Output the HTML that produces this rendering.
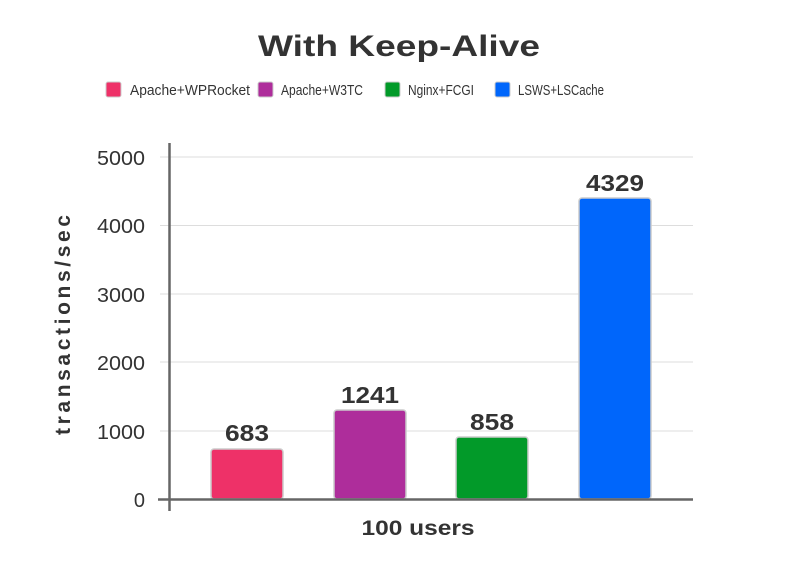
<!DOCTYPE html><html><head><style>body{margin:0;background:#fff}</style></head><body>
<svg width="800" height="560" xmlns="http://www.w3.org/2000/svg" font-family="'Liberation Sans',sans-serif">
<rect width="800" height="560" fill="#fff"/>
<text x="399" y="56" text-anchor="middle" font-size="30" font-weight="bold" fill="#333" textLength="282" lengthAdjust="spacingAndGlyphs">With Keep-Alive</text>
<g font-size="15" fill="#333">
<rect x="106" y="82" width="15" height="15" rx="2" fill="#ee3168" stroke="#ccc"/><text x="130" y="95" textLength="120" lengthAdjust="spacingAndGlyphs">Apache+WPRocket</text>
<rect x="258" y="82" width="15" height="15" rx="2" fill="#ae2d9b" stroke="#ccc"/><text x="281" y="95" textLength="82" lengthAdjust="spacingAndGlyphs">Apache+W3TC</text>
<rect x="385" y="82" width="15" height="15" rx="2" fill="#029a29" stroke="#ccc"/><text x="408" y="95" textLength="66" lengthAdjust="spacingAndGlyphs">Nginx+FCGI</text>
<rect x="495" y="82" width="15" height="15" rx="2" fill="#0066fb" stroke="#ccc"/><text x="518" y="95" textLength="86" lengthAdjust="spacingAndGlyphs">LSWS+LSCache</text>
</g>
<g stroke="#ddd" stroke-width="1">
<line x1="160" x2="693" y1="157" y2="157"/><line x1="160" x2="693" y1="225.5" y2="225.5"/><line x1="160" x2="693" y1="294" y2="294"/><line x1="160" x2="693" y1="362" y2="362"/><line x1="160" x2="693" y1="431" y2="431"/>
</g>
<g font-size="20" fill="#333" text-anchor="end">
<text x="145" y="165" textLength="48" lengthAdjust="spacingAndGlyphs">5000</text><text x="145" y="233" textLength="48" lengthAdjust="spacingAndGlyphs">4000</text><text x="145" y="302" textLength="48" lengthAdjust="spacingAndGlyphs">3000</text><text x="145" y="370" textLength="48" lengthAdjust="spacingAndGlyphs">2000</text><text x="145" y="439" textLength="48" lengthAdjust="spacingAndGlyphs">1000</text><text x="145" y="507">0</text>
</g>
<text transform="translate(70,325) rotate(-90)" text-anchor="middle" font-size="21" font-weight="bold" fill="#333" textLength="220" lengthAdjust="spacing">transactions/sec</text>
<g stroke="#ccc" stroke-width="1.5">
<rect x="211" y="449" width="72" height="50" rx="3" fill="#ee3168"/>
<rect x="334" y="410" width="72" height="89" rx="3" fill="#ae2d9b"/>
<rect x="456" y="437" width="72" height="62" rx="3" fill="#029a29"/>
<rect x="579" y="198" width="72" height="301" rx="3" fill="#0066fb"/>
</g>
<g font-size="23" font-weight="bold" fill="#333" text-anchor="middle">
<text x="247" y="441" textLength="44" lengthAdjust="spacingAndGlyphs">683</text><text x="370" y="403" textLength="58" lengthAdjust="spacingAndGlyphs">1241</text><text x="492" y="430" textLength="44" lengthAdjust="spacingAndGlyphs">858</text><text x="615" y="191" textLength="58" lengthAdjust="spacingAndGlyphs">4329</text>
</g>
<line x1="169.5" y1="143" x2="169.5" y2="511" stroke="#666" stroke-width="2.5"/>
<line x1="158" y1="499.5" x2="693" y2="499.5" stroke="#666" stroke-width="2.5"/>
<text x="418" y="535" text-anchor="middle" font-size="21" font-weight="bold" fill="#333" textLength="113" lengthAdjust="spacingAndGlyphs">100 users</text>
</svg>
</body></html>
